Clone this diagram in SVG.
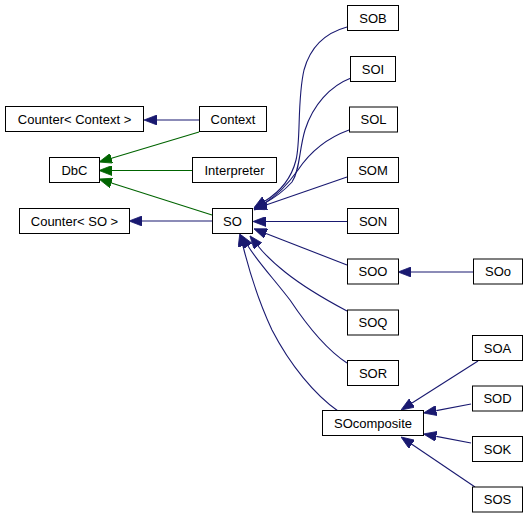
<svg xmlns="http://www.w3.org/2000/svg" width="528" height="519" viewBox="0 0 528 519">
<style>
.n rect{fill:#ffffff;stroke:#000000;stroke-width:1}
.n text{font-family:"Liberation Sans",Arial,Helvetica,sans-serif;font-size:13px;text-anchor:middle;fill:#000000}
.e path{fill:none;stroke-width:1.1}
.b{stroke:#191970;marker-end:url(#ab)}
.g{stroke:#006400;marker-end:url(#ag)}
</style>
<defs>
<marker id="ab" markerUnits="userSpaceOnUse" viewBox="0 0 13 10" refX="0" refY="5" markerWidth="13" markerHeight="10" orient="auto">
<path d="M0,0 L13,5 L0,10 z" fill="#191970" stroke="#191970" stroke-width="0.8"/>
</marker>
<marker id="ag" markerUnits="userSpaceOnUse" viewBox="0 0 13 10" refX="0" refY="5" markerWidth="13" markerHeight="10" orient="auto">
<path d="M0,0 L13,5 L0,10 z" fill="#006400" stroke="#006400" stroke-width="0.8"/>
</marker>
</defs>
<rect width="528" height="519" fill="#ffffff"/>
<g id="edges" class="e">
<path class="b" d="M199,120 L157,120"/>
<path class="g" d="M199,132 L111.5,158.3"/>
<path class="g" d="M192,170.5 L112,170.5"/>
<path class="g" d="M212,215 L111.4,183"/>
<path class="b" d="M212,221 L142,221"/>
<path class="b" d="M347,27 C325,33 310,48 304,70 C297,100 301,140 296,160 C291,180 278,193 265,201"/>
<path class="b" d="M351,78 C330,86 313,105 305,130 C299,150 300,170 292,182 C283,192 274,198 265,203"/>
<path class="b" d="M349,130 C327,138 310,152 298,170 C288,184 276,196 265,203"/>
<path class="b" d="M347,177 L266,205"/>
<path class="b" d="M347,221.5 L266,221.5"/>
<path class="b" d="M347,265 L266,233.5"/>
<path class="b" d="M347,311 C330,302 305,288 285,272 C275,264 266,256 258,246"/>
<path class="b" d="M347,363 C330,352 310,330 290,300 C273,278 258,262 248,246"/>
<path class="b" d="M338,411 C315,395 290,365 272,330 C258,300 249,270 243,246"/>
<path class="b" d="M473,272 L411,272"/>
<path class="b" d="M478,361 L412,403"/>
<path class="b" d="M471,404 L436.3,410.6"/>
<path class="b" d="M471,443 L436.3,436.4"/>
<path class="b" d="M475,487 L411.8,444.3"/>
</g>
<g id="CounterContext" class="n"><rect x="5.5" y="106.5" width="138" height="25"/><text x="74.5" y="123.5">Counter&lt; Context &gt;</text></g>
<g id="Context" class="n"><rect x="199.5" y="106.5" width="67" height="25"/><text x="233" y="123.5">Context</text></g>
<g id="DbC" class="n"><rect x="49.5" y="157.5" width="50" height="25"/><text x="74.5" y="174.5">DbC</text></g>
<g id="Interpreter" class="n"><rect x="192.5" y="157.5" width="84" height="25"/><text x="234.5" y="174.5">Interpreter</text></g>
<g id="CounterSO" class="n"><rect x="19.5" y="208.5" width="110" height="25"/><text x="74.5" y="225.5">Counter&lt; SO &gt;</text></g>
<g id="SO" class="n"><rect x="212.5" y="208.5" width="40" height="25"/><text x="232.5" y="225.5">SO</text></g>
<g id="SOB" class="n"><rect x="347.5" y="5.5" width="51" height="25"/><text x="373" y="22.5">SOB</text></g>
<g id="SOI" class="n"><rect x="350.5" y="56.5" width="45" height="25"/><text x="373" y="73.5">SOI</text></g>
<g id="SOL" class="n"><rect x="349.5" y="107" width="48" height="25"/><text x="373.5" y="124">SOL</text></g>
<g id="SOM" class="n"><rect x="347.5" y="157.5" width="51" height="25"/><text x="373" y="174.5">SOM</text></g>
<g id="SON" class="n"><rect x="347.5" y="208.5" width="51" height="25"/><text x="373" y="225.5">SON</text></g>
<g id="SOO" class="n"><rect x="347.5" y="259" width="51" height="25"/><text x="373" y="276">SOO</text></g>
<g id="SOo" class="n"><rect x="473.5" y="259" width="49" height="25"/><text x="498" y="276">SOo</text></g>
<g id="SOQ" class="n"><rect x="347.5" y="310" width="51" height="25"/><text x="373" y="327">SOQ</text></g>
<g id="SOR" class="n"><rect x="347.5" y="360.5" width="51" height="25"/><text x="373" y="377.5">SOR</text></g>
<g id="SOcomposite" class="n"><rect x="322.5" y="410.5" width="101" height="25"/><text x="373" y="427.5">SOcomposite</text></g>
<g id="SOA" class="n"><rect x="472.5" y="335.5" width="50" height="25"/><text x="497.5" y="352.5">SOA</text></g>
<g id="SOD" class="n"><rect x="472.5" y="386" width="50" height="25"/><text x="497.5" y="403">SOD</text></g>
<g id="SOK" class="n"><rect x="472.5" y="436.5" width="50" height="25"/><text x="497.5" y="453.5">SOK</text></g>
<g id="SOS" class="n"><rect x="472.5" y="487" width="50" height="25"/><text x="497.5" y="504">SOS</text></g>
</svg>
